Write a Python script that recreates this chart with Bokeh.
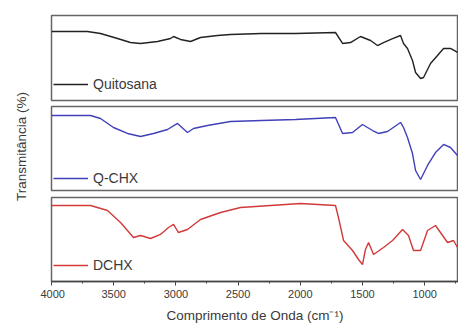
import math
from bokeh.plotting import figure
from bokeh.models import Range1d, FixedTicker, Legend, LegendItem, Label
from bokeh.layouts import row, column
from bokeh.embed import file_html
from bokeh.resources import INLINE

# Wavenumbers (cm^-1) and transmittance (arbitrary %, offset per panel)
wn_quitosana = [4000, 3711, 3606, 3469, 3365, 3284, 3148, 3043, 3019, 2963, 2882, 2802, 2665, 2561,
                2312, 2038, 1717, 1660, 1596, 1516, 1435, 1379, 1331, 1258, 1194, 1170, 1138, 1098,
                1073, 1033, 1009, 953, 897, 848, 792, 736]
t_quitosana = [81.2, 81.2, 78.8, 72.9, 68.2, 67.1, 69.4, 72.9, 75.3, 71.8, 69.4, 74.1, 76.5, 77.6,
               78.8, 78.8, 80.0, 67.1, 68.2, 75.3, 70.6, 64.7, 68.2, 72.9, 76.5, 67.1, 61.2, 47.1,
               32.9, 25.9, 27.1, 43.5, 52.9, 61.2, 61.2, 56.5]

wn_qchx = [4000, 3686, 3606, 3502, 3389, 3284, 3180, 3067, 2987, 2907, 2858, 2746, 2561, 2312,
           2038, 1717, 1660, 1580, 1500, 1419, 1371, 1299, 1194, 1170, 1138, 1098, 1073, 1033,
           977, 913, 848, 792, 736]
t_qchx = [89.3, 89.3, 85.7, 75.0, 67.9, 64.3, 67.9, 72.6, 79.8, 69.0, 73.8, 77.4, 82.1, 83.3,
          84.5, 86.9, 67.9, 69.0, 78.6, 71.4, 67.9, 70.2, 81.0, 75.0, 63.1, 44.0, 23.8, 13.1,
          29.8, 45.2, 54.8, 51.2, 41.7]

wn_dchx = [4000, 3686, 3550, 3445, 3341, 3284, 3204, 3124, 3059, 3019, 2979, 2907, 2802, 2641,
           2480, 2239, 1998, 1717, 1693, 1652, 1580, 1532, 1500, 1476, 1451, 1411, 1331, 1258,
           1178, 1130, 1090, 1033, 977, 913, 873, 816, 768, 736]
t_dchx = [90.5, 90.5, 84.5, 70.2, 52.4, 54.8, 51.2, 56.0, 64.3, 67.9, 58.3, 61.9, 73.8, 82.1,
          88.1, 90.5, 92.9, 90.5, 76.2, 48.8, 36.9, 26.2, 20.2, 38.1, 46.4, 32.1, 40.5, 48.8,
          61.9, 54.8, 36.9, 36.9, 60.7, 66.7, 58.3, 46.4, 48.8, 40.5]

series_names = ["Quitosana", "Q-CHX", "DCHX"]
series_colors = ["#222222", "#4040b8", "#d23a3a"]
x_ticks = [4000, 3500, 3000, 2500, 2000, 1500, 1000]
x_minor = [3750, 3250, 2750, 2250, 1750, 1250, 750]
y_title = "Transmitância (%)"
x_title = "Comprimento de Onda (cm⁻¹)"

FONT = "Liberation Sans"
TXT = "#3a3a3a"
LW = 40  # width of the y-title strip

def make_panel(h, top, bottom, wn, t, name, color, leg_y):
    p = figure(width=458 - LW, height=h, output_backend="svg", toolbar_location=None,
               x_range=Range1d(4000, 728), y_range=Range1d(0, 100),
               min_border_left=51 - LW, min_border_right=0,
               min_border_top=top, min_border_bottom=bottom)
    p.grid.visible = False
    p.yaxis.visible = False
    p.outline_line_color = "#666666"
    p.outline_line_width = 1.5
    p.background_fill_color = "white"
    r = p.line(wn, t, line_color=color, line_width=1.4)
    leg = Legend(items=[LegendItem(label=name, renderers=[r])], location=(2, leg_y),
                 border_line_color=None, background_fill_alpha=0, padding=0, margin=0,
                 spacing=0, glyph_width=35, glyph_height=14, label_standoff=5,
                 label_text_font_size="14px", label_text_font=FONT, label_text_color=TXT,
                 label_height=14)
    p.add_layout(leg)
    return p

p1 = make_panel(103, 15, 3, wn_quitosana, t_quitosana, series_names[0], series_colors[0], 8)
p2 = make_panel(90, 3, 3, wn_qchx, t_qchx, series_names[1], series_colors[1], 4)
p3 = make_panel(132, 4, 44, wn_dchx, t_dchx, series_names[2], series_colors[2], 8)

for p in (p1, p2):
    p.xaxis.visible = False

xa = p3.xaxis[0]
xa.ticker = FixedTicker(ticks=x_ticks, minor_ticks=x_minor)
xa.axis_label = x_title
xa.axis_label_text_font = FONT
xa.axis_label_text_font_style = "normal"
xa.axis_label_text_font_size = "13.5px"
xa.axis_label_text_color = TXT
xa.axis_label_standoff = 7
xa.major_label_text_font = FONT
xa.major_label_text_font_size = "11px"
xa.major_label_text_color = TXT
xa.major_label_standoff = 4
xa.axis_line_color = "#444444"
xa.axis_line_width = 1.5
xa.major_tick_line_color = "#444444"
xa.minor_tick_line_color = "#444444"
xa.major_tick_in = 0
xa.major_tick_out = 4
xa.minor_tick_in = 0
xa.minor_tick_out = 2

# strip holding the shared y-axis title
lf = figure(width=LW, height=325, output_backend="svg", toolbar_location=None,
            x_range=Range1d(0, LW), y_range=Range1d(0, 325),
            min_border=0, min_border_left=0, min_border_right=0,
            min_border_top=0, min_border_bottom=0)
lf.axis.visible = False
lf.grid.visible = False
lf.outline_line_color = None
lf.add_layout(Label(x=21, y=325 - 146, text=y_title, angle=math.pi / 2,
                    text_align="center", text_baseline="middle",
                    text_font=FONT, text_font_size="13.5px", text_color=TXT))

layout = row(lf, column(p1, p2, p3))

open("out.html", "w").write(file_html(layout, INLINE))
